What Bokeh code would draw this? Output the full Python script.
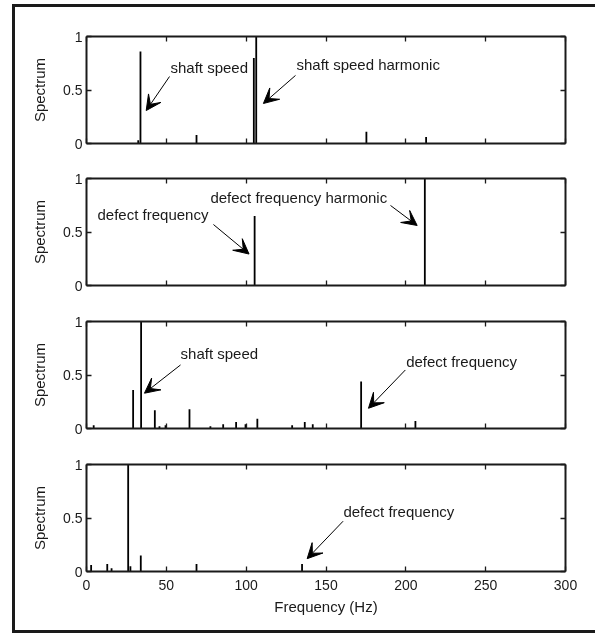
from bokeh.plotting import figure
from bokeh.layouts import column
from bokeh.models import (Range1d, FixedTicker, LinearAxis, Label, Arrow, VeeHead)
from bokeh.embed import file_html
from bokeh.resources import INLINE

# ---------------- data ----------------
x_ticks = [0, 50, 100, 150, 200, 250, 300]
x_tick_labels = ["0", "50", "100", "150", "200", "250", "300"]
y_ticks = [0, 0.5, 1]
y_tick_labels = ["0", "0.5", "1"]
panel_tags = ["(a)", "(b)", "(c)", "(d)"]

# panel (a)
freq_a = [32.4, 33.8, 68.9, 104.8, 106.3, 175.3, 212.7]
amp_a = [0.03, 0.86, 0.08, 0.80, 1.00, 0.11, 0.06]
# panel (b)
freq_b = [105.3, 211.9]
amp_b = [0.65, 1.00]
# panel (c)
freq_c = [4.5, 29.2, 34.2, 42.8, 45.7, 49.5, 64.5, 77.6, 85.6, 93.7, 99.6,
          107.0, 128.8, 136.7, 141.7, 172.0, 206.0]
amp_c = [0.03, 0.36, 1.00, 0.17, 0.02, 0.03, 0.18, 0.02, 0.04, 0.06, 0.04,
         0.09, 0.03, 0.06, 0.04, 0.44, 0.07]
# panel (d)
freq_d = [2.9, 13.0, 15.7, 26.1, 27.5, 34.0, 68.9, 135.0]
amp_d = [0.06, 0.07, 0.03, 1.00, 0.05, 0.15, 0.07, 0.07]

# annotations: (text, text_x, text_y, arrow_x0, arrow_y0, arrow_x1, arrow_y1)
notes_a = [("shaft speed", 52.6, 0.71, 52.0, 0.626, 37.4, 0.308),
           ("shaft speed harmonic", 131.5, 0.738, 130.9, 0.636, 110.8, 0.374)]
notes_b = [("defect frequency", 6.9, 0.664, 79.5, 0.57, 101.8, 0.294),
           ("defect frequency harmonic", 77.6, 0.822, 190.4, 0.748, 207.1, 0.561)]
notes_c = [("shaft speed", 58.9, 0.703, 58.9, 0.594, 36.3, 0.33),
           ("defect frequency", 200.2, 0.623, 199.7, 0.547, 176.6, 0.189)]
notes_d = [("defect frequency", 160.9, 0.557, 160.7, 0.47, 138.2, 0.12)]

FONT = "Liberation Sans"
INK = "#1a1a1a"
FIG_W = 590


def base_axis(ax):
    ax.axis_line_color = INK
    ax.axis_line_width = 2
    ax.major_tick_line_color = INK
    ax.major_tick_line_width = 1.3
    ax.major_tick_in = 5
    ax.major_tick_out = 0
    ax.minor_tick_line_color = None
    ax.major_label_text_font = FONT


def hide_labels(ax):
    ax.major_label_text_color = None
    ax.major_label_text_font_size = "8px"
    ax.major_label_standoff = 0


def make_panel(tag, freqs, amps, notes, height, top, bottom, last):
    p = figure(width=FIG_W, height=height, output_backend="svg", toolbar_location=None,
               x_range=Range1d(0, 300), y_range=Range1d(0, 1),
               min_border_left=71, min_border_right=FIG_W - 71 - 479,
               min_border_top=top, min_border_bottom=bottom,
               x_axis_label="Frequency (Hz)" if last else None,
               y_axis_label="Spectrum")
    p.xgrid.grid_line_color = None
    p.ygrid.grid_line_color = None
    p.outline_line_color = None
    p.background_fill_color = "white"
    p.border_fill_color = "white"

    xa = p.xaxis[0]
    ya = p.yaxis[0]
    xa.ticker = FixedTicker(ticks=x_ticks)
    ya.ticker = FixedTicker(ticks=y_ticks)
    xa.major_label_overrides = dict(zip(x_ticks, x_tick_labels))
    ya.major_label_overrides = dict(zip(y_ticks, y_tick_labels))
    for ax in (xa, ya):
        base_axis(ax)
        ax.major_label_text_font_size = "14px"
        ax.major_label_text_color = INK
        ax.axis_label_text_font = FONT
        ax.axis_label_text_font_size = "15px"
        ax.axis_label_text_font_style = "normal"
        ax.axis_label_text_color = INK
    ya.major_label_standoff = 4
    ya.axis_label_standoff = 12
    if last:
        xa.major_label_standoff = 8
        xa.axis_label_standoff = 5
    else:
        hide_labels(xa)

    top_ax = LinearAxis(ticker=FixedTicker(ticks=x_ticks))
    right_ax = LinearAxis(ticker=FixedTicker(ticks=y_ticks))
    for ax in (top_ax, right_ax):
        base_axis(ax)
        hide_labels(ax)
    p.add_layout(top_ax, "above")
    p.add_layout(right_ax, "right")

    p.segment(x0=freqs, y0=[0] * len(freqs), x1=freqs, y1=amps,
              line_color="black", line_width=1.8)

    p.add_layout(Label(x=0, y=1, x_offset=-53, y_offset=1, text=tag,
                       text_font=FONT, text_font_size="15px", text_color=INK,
                       text_baseline="middle", text_align="left"))
    for (txt, tx, ty, ax0, ay0, ax1, ay1) in notes:
        p.add_layout(Label(x=tx, y=ty, text=txt, text_font=FONT, text_font_size="15px",
                           text_color=INK, text_baseline="middle", text_align="left"))
        p.add_layout(Arrow(x_start=ax0, y_start=ay0, x_end=ax1, y_end=ay1,
                           line_color="black", line_width=1,
                           end=VeeHead(size=15, fill_color="black", line_color="black")))
    return p


pa = make_panel(panel_tags[0], freq_a, amp_a, notes_a, 153, 29, 17, False)
pb = make_panel(panel_tags[1], freq_b, amp_b, notes_b, 143, 18, 18, False)
pc = make_panel(panel_tags[2], freq_c, amp_c, notes_c, 143, 18, 18, False)
pd = make_panel(panel_tags[3], freq_d, amp_d, notes_d, 184, 18, 59, True)

frame_shadow = ("-3px 0 0 0 #1a1a1a, 0 -3px 0 0 #1a1a1a, 0 3px 0 0 #1a1a1a, "
                "-3px -3px 0 0 #1a1a1a, -3px 3px 0 0 #1a1a1a")
layout = column(pa, pb, pc, pd, spacing=0, margin=0,
                styles={"box-shadow": frame_shadow, "position": "fixed",
                        "left": "15px", "top": "7px"})

open("out.html", "w").write(file_html(layout, INLINE))
